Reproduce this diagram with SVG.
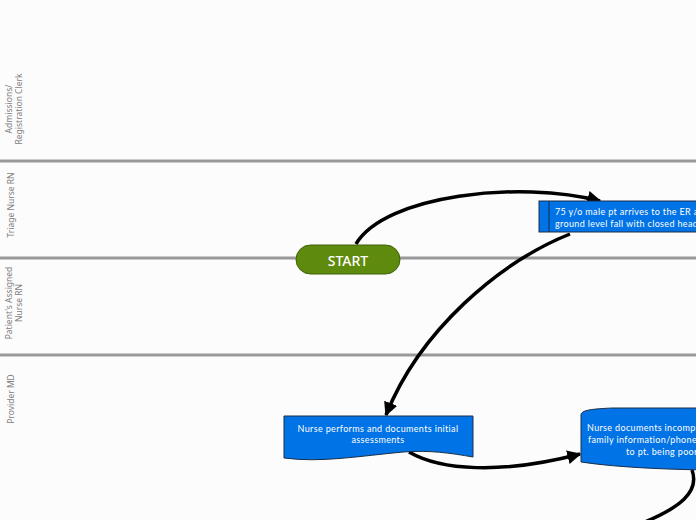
<svg xmlns="http://www.w3.org/2000/svg" width="696" height="520" viewBox="0 0 696 520">
<style>
.lane{stroke:#999;stroke-width:3}
.lbl{font-family:"Noto Sans","Open Sans",sans-serif;font-size:8.5px;fill:#808080;text-anchor:middle}
.box{fill:#0073e6;stroke:#1b2f4a;stroke-width:1}
.bt{font-family:"Lato","Noto Sans",sans-serif;font-size:9px;letter-spacing:0.35px;fill:#fff}
.con{fill:none;stroke:#000;stroke-width:3.5;marker-end:url(#ah)}
.con2{fill:none;stroke:#000;stroke-width:3.5}
</style>
<defs>
<marker id="ah" viewBox="0 0 10 10" refX="9" refY="5" markerWidth="4" markerHeight="4" orient="auto" markerUnits="strokeWidth">
<path d="M0,0 L10,5 L0,10 Z" fill="#000"/>
</marker>
</defs>
<rect x="0" y="0" width="696" height="520" fill="#fcfcfc"/>
<g id="lanes">
<line class="lane" x1="0" y1="161" x2="696" y2="161"/>
<line class="lane" x1="0" y1="258" x2="696" y2="258"/>
<line class="lane" x1="0" y1="355" x2="696" y2="355"/>
<text class="lbl" transform="translate(12,109) rotate(-90)"><tspan x="0" dy="0">Admissions/</tspan><tspan x="0" dy="10">Registration Clerk</tspan></text>
<text class="lbl" transform="translate(14,205) rotate(-90)">Triage Nurse RN</text>
<text class="lbl" transform="translate(12,303) rotate(-90)"><tspan x="0" dy="0">Patient's Assigned</tspan><tspan x="0" dy="10">Nurse RN</tspan></text>
<text class="lbl" transform="translate(14,399) rotate(-90)">Provider MD</text>
</g>
<g id="connectors">
<path class="con" d="M356,244 C385,195 520,180 600,201"/>
<path class="con" d="M570,234 C500,262 420,330 386,415"/>
<path class="con" d="M409,452 C440,470 500,475 580,454"/>
<path class="con2" d="M692,470 C700,492 680,508 640,524"/>
</g>
<g id="start">
<rect x="296" y="245" width="104" height="29" rx="14.5" fill="#5e8a0e" stroke="#3f6108" stroke-width="1"/>
<text x="348" y="266" text-anchor="middle" font-family="Noto Sans,Open Sans,sans-serif" font-size="14" font-weight="500" fill="#fff">START</text>
</g>
<g id="arrives">
<rect class="box" x="539" y="201" width="180" height="31"/>
<line x1="549" y1="201" x2="549" y2="232" stroke="#1b2f4a" stroke-width="1"/>
<text class="bt" x="555" y="215">75 y/o male pt arrives to the ER after a</text>
<text class="bt" x="555" y="227">ground level fall with closed head injury</text>
</g>
<g id="assess">
<path class="box" d="M284,416 H473 V457 C450,453 430,450 403,452 C360,456 320,463 284,458 Z"/>
<text class="bt" x="378" y="432" text-anchor="middle">Nurse performs and documents initial</text>
<text class="bt" x="378" y="443" text-anchor="middle">assessments</text>
</g>
<g id="documents">
<path class="box" d="M581,415 C581,410 592,409 612,408 L720,408 L720,470 C680,470 620,468 581,462 Z"/>
<text class="bt" x="587" y="431">Nurse documents incomplete patient and</text>
<text class="bt" x="588" y="443">family information/phone number due</text>
<text class="bt" x="626" y="455">to pt. being poor historian</text>
</g>
</svg>
